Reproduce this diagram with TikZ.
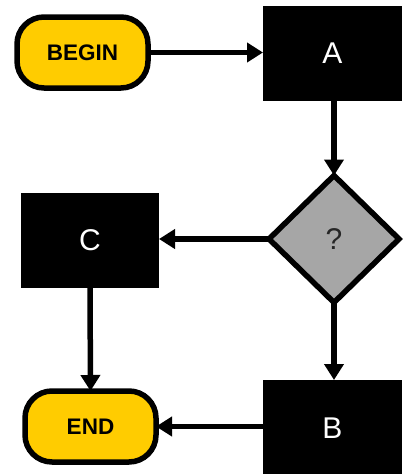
\documentclass[tikz,border=0pt]{standalone}
\usepackage{fontspec}
\setmainfont{Liberation Sans}
\usetikzlibrary{shapes.geometric,arrows.meta}
\definecolor{termyellow}{HTML}{FFCC00}
\definecolor{decgray}{HTML}{A6A6A6}
\tikzset{
  terminal/.style={draw=black, line width=5.5pt, fill=termyellow, rounded corners=27pt,
    minimum width=131pt, minimum height=71pt, inner sep=0pt, outer sep=0pt,
    font=\fontsize{22.5}{24}\selectfont\bfseries},
  process/.style={fill=black, text=white, inner sep=0pt, outer sep=0pt,
    font=\fontsize{30}{32}\selectfont},
  decision/.style={diamond, draw=black, line width=5.5pt, fill=decgray, inner sep=0pt,
    minimum width=130pt, minimum height=127pt, outer sep=0pt, text=black!85,
    font=\fontsize{30}{32}\selectfont},
  flow/.style={line width=5.5pt, -{Triangle[length=16pt,width=19pt]}}
}
\begin{document}
\begin{tikzpicture}[x=1pt,y=-1pt]
  \useasboundingbox (0,0) rectangle (404,474);
  \fill[white] (0,0) rectangle (404,474);
  \node[terminal] (begin) at (82.5,52.5) {BEGIN};
  \node[process, minimum width=139pt, minimum height=95pt] (a) at (332.5,53.5) {A};
  \node[decision] (q) at (334,239) {?};
  \node[process, minimum width=138pt, minimum height=95pt] (c) at (90,240.5) {C};
  \node[process, minimum width=139pt, minimum height=96pt] (b) at (332.5,428) {B};
  \node[terminal] (end) at (90.5,426.5) {END};
  \draw[flow] (begin.east) -- (begin.east -| a.west);
  \draw[flow] (a.south -| q.north) -- (q.north);
  \draw[flow] (q.west) -- (q.west -| c.east);
  \draw[flow] (q.south) -- (q.south |- b.north);
  \draw[flow] (c.south) -- (end.north);
  \draw[flow] (b.west |- end.east) -- (end.east);
\end{tikzpicture}
\end{document}
